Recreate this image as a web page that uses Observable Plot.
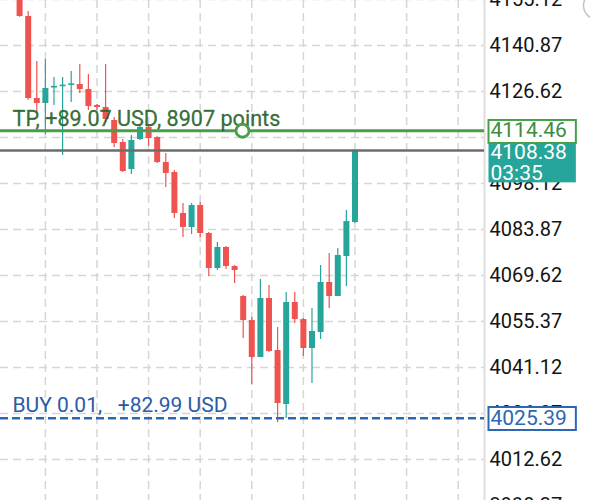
<!DOCTYPE html>
<html><head><meta charset="utf-8">
<script src="https://cdn.jsdelivr.net/npm/d3@7"></script>
<script src="https://cdn.jsdelivr.net/npm/@observablehq/plot@0.6"></script>
<style>html,body{margin:0;padding:0;background:#fff;} svg{display:block;}</style>
</head><body><div id="chart"></div>
<script>
// Candle data (one entry per candle, oldest first)
const openP  = [4157.91,4149.85,4124.45,4122.90,4127.70,4128.10,4128.50,4128.79,4127.24,4122.28,
                4121.66,4117.63,4110.82,4102.45,4111.75,4115.47,4112.37,4104.62,4101.52,4088.82,
                4084.49,4091.30,4082.63,4071.78,4078.29,4072.40,4063.11,4055.67,4044.21,4062.49,
                4046.38,4029.65,4061.25,4055.98,4047.00,4051.96,4067.45,4063.11,4075.50,4086.03];
const closeP = [4149.85,4124.45,4122.90,4127.55,4128.20,4128.60,4129.00,4127.24,4121.97,4121.66,
                4117.94,4110.51,4101.83,4111.44,4115.47,4112.06,4104.62,4101.21,4088.82,4084.49,
                4091.30,4082.63,4071.78,4078.29,4072.40,4071.16,4055.67,4044.21,4062.49,4046.07,
                4029.96,4061.25,4055.98,4047.00,4052.27,4067.45,4063.11,4075.81,4086.34,4108.38];
const highP  = [4159.46,4151.40,4135.91,4136.53,4130.96,4130.96,4132.82,4134.98,4131.89,4122.59,
                4134.98,4118.56,4111.75,4112.99,4116.09,4116.09,4112.60,4107.41,4102.14,4091.92,
                4091.92,4092.23,4082.94,4079.84,4078.60,4072.71,4063.40,4056.60,4068.38,4066.52,
                4053.50,4064.35,4064.35,4056.29,4059.39,4072.71,4076.43,4077.98,4089.75,4108.38];
const lowP   = [4149.60,4123.83,4119.80,4113.30,4122.28,4106.79,4123.21,4126.00,4120.73,4120.73,
                4117.02,4109.27,4101.52,4100.90,4111.44,4109.58,4104.30,4096.88,4087.27,4081.39,
                4082.32,4081.39,4069.31,4071.16,4071.47,4067.14,4050.10,4035.85,4044.21,4045.76,
                4024.07,4025.31,4054.74,4044.52,4036.16,4049.79,4059.39,4063.11,4066.21,4085.72];

// Price axis tick labels and time grid positions (candle index)
const priceTicks = [4155.12,4140.87,4126.62,4112.37,4098.12,4083.87,4069.62,4055.37,4041.12,4026.87,4012.62,3998.37];
const timeGrid = [3,9,15,21,27,33,39,45,51];

// Order lines
const tpPrice = 4114.46;
const tpLabel = "TP, +89.07 USD, 8907 points";
const lastPrice = 4108.38;
const lastTime = "03:35";
const buyPrice = 4025.39;
const buyLabel = "BUY 0.01,\u00a0\u00a0\u00a0+82.99 USD";

const candles = openP.map((o, i) => ({i, open: o, close: closeP[i], high: highP[i], low: lowP[i]}));
const UP = "#26a69a", DOWN = "#ef5350";
const col = d => d.close >= d.open ? UP : DOWN;
const xDomain = [-2.22, 54.06];
const yDomain = [3999.92, 4154.81];

const chart = Plot.plot({
  width: 590, height: 500,
  marginTop: 0, marginBottom: 0, marginLeft: 0, marginRight: 106,
  x: {domain: xDomain, axis: null},
  y: {domain: yDomain, axis: null},
  style: {fontFamily: "Roboto, sans-serif", background: "#fff", overflow: "hidden"},
  marks: [
    Plot.gridX(timeGrid, {stroke: "#d6d6d6", strokeOpacity: 1, strokeWidth: 1.5, strokeDasharray: "8,5"}),
    Plot.gridY(priceTicks, {stroke: "#d6d6d6", strokeOpacity: 1, strokeWidth: 1.5, strokeDasharray: "8,5"}),
    Plot.ruleX([xDomain[1]], {stroke: "#dedede", strokeWidth: 2}),
    Plot.axisY(priceTicks, {anchor: "right", tickSize: 0, tickPadding: 5, fontSize: 20, fill: "#141414",
      tickFormat: d => d.toFixed(2)}),
    Plot.ruleX(candles, {x: "i", y1: "low", y2: "high", stroke: col, strokeWidth: 1.2, clip: true}),
    Plot.ruleX(candles, {x: "i", y1: "open", y2: "close", stroke: col, strokeWidth: 6, clip: true}),
    Plot.ruleY([lastPrice], {stroke: "#6c6c6c", strokeWidth: 2.5}),
    Plot.ruleY([tpPrice], {stroke: "#45a049", strokeWidth: 3}),
    Plot.ruleY([buyPrice], {stroke: "#2d66b3", strokeWidth: 2.5, strokeDasharray: "8,4"}),
    Plot.text([tpPrice], {y: d => d, text: () => tpLabel, frameAnchor: "left", dx: 12, dy: -5,
      textAnchor: "start", lineAnchor: "bottom", fontSize: 21.6, fill: "#27632a", fillOpacity: 0.92,
      stroke: "#27632a", strokeWidth: 0.35, strokeOpacity: 0.8}),
    Plot.text([buyPrice], {y: d => d, text: () => buyLabel, frameAnchor: "left", dx: 12, dy: -6,
      textAnchor: "start", lineAnchor: "bottom", fontSize: 21, fill: "#2a5ba5"}),
    Plot.dot([tpPrice], {y: d => d, r: 6.5, stroke: "#45a049", strokeWidth: 2.8, fill: "#fff"}),
    Plot.text([tpPrice], {y: d => d, text: d => d.toFixed(2), frameAnchor: "right", dx: 6,
      textAnchor: "start", lineAnchor: "middle", fontSize: 21, fill: "#3d8b3f", ariaDescription: "tag-tp"}),
    Plot.text([lastPrice], {y: d => d, text: d => d.toFixed(2) + "\n" + lastTime, frameAnchor: "right", dx: 6, dy: -7,
      textAnchor: "start", lineAnchor: "top", lineHeight: 1.03, fontSize: 21, fill: "#fff", ariaDescription: "tag-last"}),
    Plot.text([buyPrice], {y: d => d, text: d => d.toFixed(2), frameAnchor: "right", dx: 6,
      textAnchor: "start", lineAnchor: "middle", fontSize: 21, fill: "#2d66b3", ariaDescription: "tag-buy"}),
    Plot.dot([0], {frameAnchor: "top-right", dx: 113, dy: 5, r: 14, stroke: "#c4c4c4", strokeWidth: 1.5, fill: "none"})
  ]
});
document.getElementById("chart").append(chart);

function findGroup(desc, content) {
  let g = chart.querySelector(`g[aria-description="${desc}"]`);
  if (g) return g;
  for (const t of chart.querySelectorAll("text")) {
    if (t.textContent.replace(/\s/g, "") === content) return t.parentNode;
  }
  return null;
}
function boxTag(desc, content, fill, stroke, padTop, padBottom) {
  const g = findGroup(desc, content);
  if (!g) return;
  const bb = g.getBBox();
  const r = document.createElementNS("http://www.w3.org/2000/svg", "rect");
  r.setAttribute("x", bb.x - 2);
  r.setAttribute("y", bb.y + padTop);
  r.setAttribute("width", bb.width + 11);
  r.setAttribute("height", bb.height - padTop + padBottom);
  r.setAttribute("fill", fill);
  r.setAttribute("fill-opacity", 1);
  r.setAttribute("stroke", stroke);
  r.setAttribute("stroke-width", stroke === "none" ? 0 : 2);
  g.insertBefore(r, g.firstChild);
}
boxTag("tag-tp", "4114.46", "#fff", "#45a049", 1.5, 0.5);
boxTag("tag-last", "4108.3803:35", UP, "none", 4, -3);
boxTag("tag-buy", "4025.39", "#fff", "#2d66b3", 1, 0);
</script></body></html>
